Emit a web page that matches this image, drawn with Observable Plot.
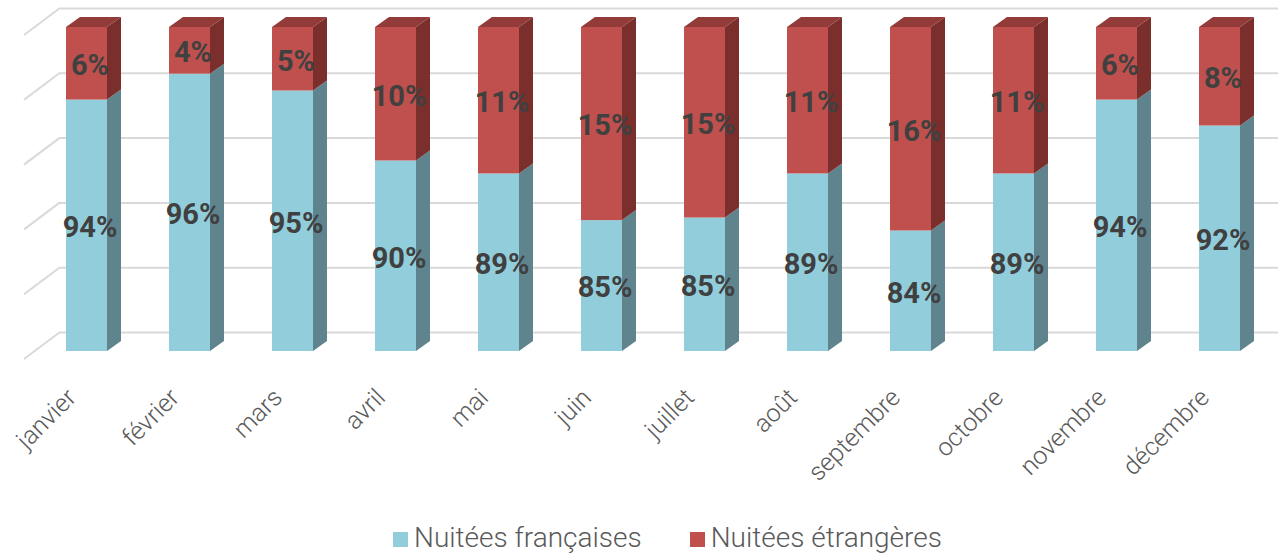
<!DOCTYPE html>
<html>
<head>
<meta charset="utf-8">
<script src="https://cdn.jsdelivr.net/npm/d3@7"></script>
<script src="https://cdn.jsdelivr.net/npm/@observablehq/plot@0.6"></script>
<style>
  html, body { margin: 0; padding: 0; background: #fff; overflow: hidden; }
  #wrap { position: relative; width: 1278px; height: 554px; }
  #legend { position: absolute; top: 521px; left: 393px; display: flex; align-items: center;
            font-family: Roboto, "Noto Sans", sans-serif; font-weight: 300; font-size: 28px; color: #595959; white-space: nowrap; }
  #legend .sw { display: inline-block; width: 15px; height: 15px; margin-right: 6px; margin-top: 4px; }
  #legend .item { display: flex; align-items: center; margin-right: 48px; }
</style>
</head>
<body>
<div id="wrap"><div id="chart"></div><div id="legend"></div></div>
<script>
// Data
const months = ["janvier","février","mars","avril","mai","juin","juillet","août","septembre","octobre","novembre","décembre"];
const francaises = [94.4, 96.4, 95.1, 89.7, 88.7, 85.1, 85.3, 88.7, 84.3, 88.7, 94.4, 92.4];
const etrangeres = francaises.map(v => +(100 - v).toFixed(1));
const seriesNames = ["Nuitées françaises", "Nuitées étrangères"];
const yTicks = [75, 80, 85, 90, 95, 100];
const yMin = 75, yMax = 100;

// Styles
const blueFront = "#92CDDC", blueSide = "#5F848E";
const redFront = "#C0504D", redSide = "#7B2F2D", redTop = "#923B38";
const gridColor = "#D9D9D9";
const DX = 14, DY = 10;          // bar depth
const WDX = 25, WDY = -19;       // back wall offset
const FDX = -11, FDY = 8;        // floor front edge offset

const rows = months.map((m, i) => ({month: m, fr: francaises[i], et: etrangeres[i]}));

function threeD(index, scales) {
  const x = scales.x, y = scales.y;
  const bw = x.bandwidth ? x.bandwidth() : 41;
  const g = d3.create("svg:g");
  rows.forEach(r => {
    const x0 = x(r.month), x1 = x0 + bw;
    const yb = y(yMin), ys = y(r.fr), yt = y(yMax);
    g.append("path").attr("fill", blueSide)
      .attr("d", `M${x1},${yb}L${x1+DX},${yb-DY}L${x1+DX},${ys-DY}L${x1},${ys}Z`);
    g.append("path").attr("fill", redSide)
      .attr("d", `M${x1},${ys}L${x1+DX},${ys-DY}L${x1+DX},${yt-DY}L${x1},${yt}Z`);
    g.append("path").attr("fill", redTop)
      .attr("d", `M${x0},${yt}L${x1},${yt}L${x1+DX},${yt-DY}L${x0+DX},${yt-DY}Z`);
  });
  return g.node();
}

function diagonals(index, scales, values, dimensions) {
  const y = scales.y;
  const xl = dimensions.marginLeft;
  const g = d3.create("svg:g").attr("stroke", gridColor).attr("stroke-width", 2);
  yTicks.forEach(v => {
    g.append("line")
      .attr("x1", xl + WDX).attr("y1", y(v) + WDY)
      .attr("x2", xl + FDX).attr("y2", y(v) + FDY);
  });
  return g.node();
}

const chart = Plot.plot({
  width: 1278,
  height: 512,
  marginTop: 27,
  marginBottom: 161,
  marginLeft: 35,
  marginRight: 7,
  style: {fontFamily: "Roboto, 'Noto Sans', sans-serif", background: "transparent"},
  x: {domain: months, paddingInner: 0.6, paddingOuter: 0.3, axis: null},
  y: {domain: [yMin, yMax], axis: null},
  marks: [
    Plot.ruleY(yTicks, {stroke: gridColor, strokeWidth: 2, dx: WDX, dy: WDY}),
    diagonals,
    Plot.barY(rows, {x: "month", y1: () => yMin, y2: "fr", fill: blueFront}),
    Plot.barY(rows, {x: "month", y1: "fr", y2: () => yMax, fill: redFront}),
    threeD,
    Plot.text(rows, {x: "month", y: d => (yMin + d.fr) / 2, text: d => Math.round(d.fr) + "%",
      fontSize: 29, fontWeight: "bold", fill: "#404040", dx: 3, dy: 2}),
    Plot.text(rows, {x: "month", y: d => (d.fr + yMax) / 2, text: d => Math.round(d.et) + "%",
      fontSize: 29, fontWeight: "bold", fill: "#404040", dx: 3, dy: 2}),
    Plot.axisX({tickRotate: -45, tickSize: 0, tickPadding: 42, fontSize: 25, fontWeight: 300, color: "#595959", label: null, dx: -15})
  ]
});
document.getElementById("chart").appendChild(chart);

const legend = document.getElementById("legend");
[[seriesNames[0], blueFront], [seriesNames[1], redFront]].forEach(([name, c]) => {
  const it = document.createElement("span");
  it.className = "item";
  it.innerHTML = `<span class="sw" style="background:${c}"></span><span>${name}</span>`;
  legend.appendChild(it);
});
</script>
</body>
</html>
